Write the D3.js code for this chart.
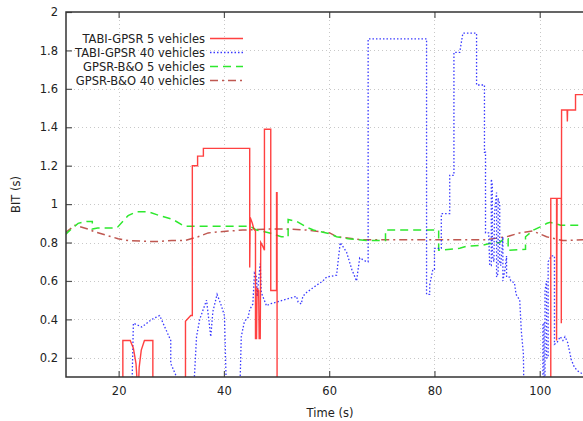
<!DOCTYPE html>
<html>
<head>
<meta charset="utf-8">
<script src="https://cdn.jsdelivr.net/npm/d3@7"></script>
<style>
  body { margin: 0; background: #fff; }
  text { font-family: "DejaVu Sans", sans-serif; fill: #222; }
</style>
</head>
<body>
<svg id="chart" width="583" height="421"></svg>
<script>
// axis ticks
const xTicks = [20, 40, 60, 80, 100];
const yTicks = [0.2, 0.4, 0.6, 0.8, 1, 1.2, 1.4, 1.6, 1.8, 2];

const seriesNames = ['TABI-GPSR 5 vehicles', 'TABI-GPSR 40 vehicles', 'GPSR-B&O 5 vehicles', 'GPSR-B&O 40 vehicles'];

// [time, BIT] pairs
const tabi5 = [
  [20.8, 0], [20.8, 0.29], [22.2, 0.29], [22.8, 0.25], [23.3, 0.17], [23.7, 0], [23.9, 0.15], [24.3, 0.24], [24.9, 0.29],
  [26.5, 0.29], [26.5, 0], [32.7, 0], [32.7, 0.39], [33.7, 0.42], [34.0, 0.42], [34.0, 1.2], [35.0, 1.2], [35.0, 1.25],
  [36.1, 1.25], [36.1, 1.29], [44.9, 1.29], [44.9, 0.67], [45.0, 0.93], [45.4, 0.9], [45.7, 0.87], [46.0, 0.86],
  [46.0, 0.3], [46.2, 0.3], [46.3, 0.56], [46.6, 0.55], [46.7, 0.3], [46.9, 0.3], [47.0, 0.8], [47.4, 0.78],
  [47.7, 0.76], [47.7, 1.39], [48.9, 1.39], [48.9, 0.55], [50.0, 0.55], [50.0, 1.06], [50.1, 1.06], [50.1, 0],
  [102.1, 0], [102.1, 1.03], [103.2, 1.03], [103.2, 0.29], [103.3, 1.03], [104.1, 1.03], [104.1, 0.38], [104.15, 1.49],
  [105.2, 1.49], [105.25, 1.43], [105.3, 1.49], [106.8, 1.49], [106.8, 1.57], [109, 1.57]
];

const tabi40 = [
  [10, 0], [22.5, 0], [22.8, 0.38], [23.6, 0.37], [24.4, 0.36], [26.3, 0.40], [27.8, 0.42], [29.9, 0.29], [29.9, 0.17],
  [32.6, 0], [34.2, 0], [34.8, 0.31], [35.4, 0.40], [36.7, 0.50], [37.5, 0.31], [37.9, 0.44], [38.7, 0.53], [39.4, 0.48],
  [40.1, 0.42], [40.5, 0], [43.0, 0], [43.3, 0.31], [43.9, 0.39], [44.6, 0.41], [44.9, 0.45], [45.5, 0.48], [45.8, 0.64],
  [46.2, 0.62], [46.3, 0.52], [46.9, 0.69], [47.1, 0.54], [48.1, 0.47], [48.7, 0.48], [50.0, 0.49], [51.2, 0.50],
  [52.5, 0.51], [53.8, 0.52], [54.1, 0.49], [54.7, 0.48], [55.0, 0.52], [55.7, 0.54], [57.2, 0.57], [58.8, 0.60],
  [59.5, 0.62], [61.4, 0.63], [62.1, 0.80], [63.3, 0.75], [64.3, 0.66], [65.2, 0.60], [65.8, 0.72], [67.1, 0.70],
  [67.4, 0.70], [67.4, 1.86], [78.5, 1.86], [78.5, 0.53], [79.1, 0.53], [79.1, 0.58], [79.7, 0.66], [80.0, 0.66],
  [80.0, 0.77], [81.3, 0.77], [81.3, 0.95], [82.9, 0.95], [82.9, 1.15], [83.7, 1.15], [83.7, 1.79], [84.8, 1.79],
  [85.4, 1.89], [88.0, 1.89], [88.0, 1.62], [89.5, 1.62], [89.5, 1.27], [89.7, 1.27], [89.7, 0.85], [90.3, 0.85],
  [90.5, 0.68], [90.8, 0.68], [90.8, 1.13], [91.0, 1.10], [91.0, 0.73], [91.3, 0.70], [91.4, 0.95], [91.8, 1.06],
  [91.8, 0.62], [92.1, 0.64], [92.1, 1.03], [92.4, 1.0], [92.4, 0.70], [92.6, 0.68], [93.0, 0.83], [93.0, 0.60],
  [93.4, 0.66], [93.7, 0.73], [93.7, 0.62], [94.3, 0.62], [94.5, 0.60], [95.2, 0.59], [95.5, 0.53], [96.2, 0.50],
  [96.5, 0.34], [96.9, 0.22], [97.0, 0], [100.6, 0], [100.6, 0.38], [100.8, 0.38], [100.8, 0.1], [101.0, 0.1],
  [101.0, 0.55], [101.3, 0.6], [101.3, 0.2], [101.6, 0.2], [101.6, 0.70], [102.2, 0.73], [102.8, 0.73], [102.8, 0.27],
  [103.3, 0.28], [103.9, 0.31], [104.4, 0.29], [104.8, 0.31], [105.3, 0.28], [106.0, 0.19], [106.6, 0.15],
  [107.3, 0.13], [108.5, 0.11]
];

const bo5 = [
  [9.8, 0.84], [11, 0.87], [12.3, 0.90], [13.9, 0.91], [15.0, 0.91], [15.0, 0.87], [16, 0.875], [18.9, 0.875],
  [19.8, 0.88], [21.8, 0.94], [23.4, 0.96], [25.6, 0.96], [27.8, 0.94], [30.3, 0.92], [32.5, 0.885], [44.9, 0.885],
  [46.2, 0.865], [48.7, 0.85], [50.9, 0.83], [52.2, 0.83], [52.2, 0.92], [53.8, 0.91], [55.7, 0.88], [57.0, 0.865],
  [60.2, 0.845], [61.4, 0.83], [63.6, 0.82], [67.1, 0.81], [70.7, 0.81], [70.7, 0.865], [80.8, 0.865], [80.8, 0.76],
  [84.8, 0.77], [86, 0.78], [88.9, 0.785], [90.5, 0.795], [92.4, 0.80], [93.2, 0.82], [94.0, 0.82], [94.0, 0.76],
  [97.3, 0.765], [97.3, 0.83], [98.8, 0.865], [100, 0.88], [101.4, 0.90], [102, 0.905], [104, 0.89], [108.5, 0.89]
];

const bo40 = [
  [9.8, 0.85], [11.7, 0.89], [14.2, 0.87], [15.5, 0.855], [17.4, 0.84], [19.9, 0.82], [21.8, 0.81], [26.9, 0.805],
  [30.1, 0.81], [32.6, 0.81], [35.1, 0.83], [37.0, 0.85], [38.6, 0.855], [43.6, 0.865], [48.1, 0.87], [51.9, 0.87],
  [55.7, 0.865], [60.1, 0.85], [61.4, 0.83], [65.8, 0.815], [70.9, 0.815], [81.0, 0.815], [89.9, 0.815], [93.7, 0.83],
  [96.2, 0.85], [98.7, 0.86], [101.3, 0.83], [104.4, 0.81], [108.5, 0.815]
];

const svg = d3.select("#chart");
const mLeft = 66, mTop = 12, mBottom = 377, mRight = 645;

const x = d3.scaleLinear().domain([10, 120]).range([mLeft, mRight]);
const y = d3.scaleLinear().domain([0.1, 2]).range([mBottom, mTop]);

svg.append("defs").append("clipPath").attr("id", "clip")
  .append("rect")
    .attr("x", mLeft).attr("y", mTop)
    .attr("width", mRight - mLeft).attr("height", mBottom - mTop);

// grid
const grid = svg.append("g").attr("stroke", "#c8c8c8").attr("stroke-width", 1).attr("stroke-dasharray", "1,3");
grid.selectAll(".gx").data(xTicks).enter().append("line")
  .attr("x1", d => Math.round(x(d)) + 0.5).attr("x2", d => Math.round(x(d)) + 0.5)
  .attr("y1", mTop).attr("y2", mBottom);
grid.selectAll(".gy").data(yTicks.filter(d => d < 2)).enter().append("line")
  .attr("x1", mLeft).attr("x2", 583)
  .attr("y1", d => Math.round(y(d)) + 0.5).attr("y2", d => Math.round(y(d)) + 0.5);

// axes (gnuplot style: inward ticks, mirrored on top)
const fmt = d => String(d);
svg.append("g")
  .attr("transform", `translate(0,${mBottom})`)
  .call(d3.axisBottom(x).tickValues(xTicks).tickSizeInner(-6).tickSizeOuter(0).tickPadding(10).tickFormat(fmt))
  .call(g => g.select(".domain").remove());
svg.append("g")
  .attr("transform", `translate(0,${mTop})`)
  .call(d3.axisTop(x).tickValues(xTicks).tickSizeInner(-6).tickSizeOuter(0).tickFormat(""))
  .call(g => g.select(".domain").remove());
svg.append("g")
  .attr("transform", `translate(${mLeft},0)`)
  .call(d3.axisLeft(y).tickValues(yTicks).tickSizeInner(-6).tickSizeOuter(0).tickPadding(8).tickFormat(fmt))
  .call(g => g.select(".domain").remove());

svg.selectAll(".tick line").attr("stroke", "#555").attr("stroke-width", 1.2);
svg.selectAll(".tick text").attr("font-size", 11.5).attr("font-family", "DejaVu Sans, sans-serif").attr("fill", "#222");

// series
const line = d3.line().x(d => x(d[0])).y(d => y(d[1]));
const styles = [
  { data: tabi5, color: "#ff2020", dash: null, width: 1.4, op: 0.85 },
  { data: tabi40, color: "#2424ff", dash: "1.5,2", width: 1.3, op: 0.9 },
  { data: bo5, color: "#2ee82e", dash: "8,5", width: 1.5, op: 1 },
  { data: bo40, color: "#b8463e", dash: "8,4,2,4", width: 1.5, op: 0.9 }
];

const plot = svg.append("g").attr("clip-path", "url(#clip)");
[3, 2, 1, 0].forEach(i => {
  const s = styles[i];
  plot.append("path")
    .datum(s.data)
    .attr("d", line)
    .attr("fill", "none")
    .attr("stroke", s.color)
    .attr("stroke-width", s.width)
    .attr("stroke-opacity", s.op)
    .attr("stroke-dasharray", s.dash);
});

// border
svg.append("path")
  .attr("d", `M583,${mTop}H${mLeft}V${mBottom}H583`)
  .attr("fill", "none").attr("stroke", "#333").attr("stroke-width", 1.5);

// legend
const legend = svg.append("g");
seriesNames.forEach((name, i) => {
  const ly = 38.5 + i * 14;
  legend.append("text")
    .attr("x", 205).attr("y", ly + 4)
    .attr("text-anchor", "end")
    .attr("font-size", 11.5)
    .text(name);
  legend.append("line")
    .attr("x1", 210).attr("x2", 243)
    .attr("y1", ly).attr("y2", ly)
    .attr("stroke", styles[i].color)
    .attr("stroke-width", styles[i].width)
    .attr("stroke-opacity", styles[i].op)
    .attr("stroke-dasharray", styles[i].dash);
});

// axis labels
svg.append("text")
  .attr("transform", `translate(20,${(mTop + mBottom) / 2}) rotate(-90)`)
  .attr("text-anchor", "middle")
  .attr("font-size", 11.5)
  .text("BIT (s)");
svg.append("text")
  .attr("x", 330).attr("y", 417)
  .attr("text-anchor", "middle")
  .attr("font-size", 11.5)
  .text("Time (s)");
</script>
</body>
</html>
